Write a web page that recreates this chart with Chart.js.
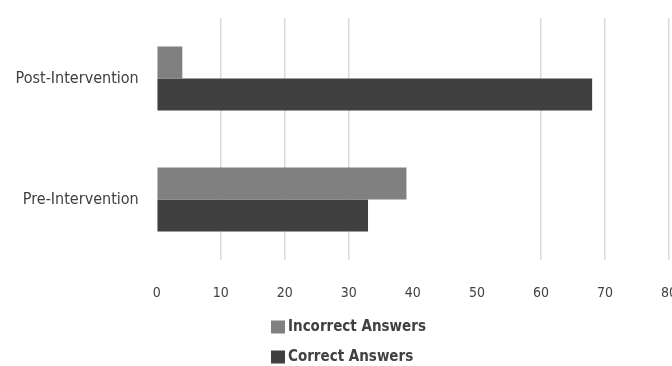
<!DOCTYPE html>
<html>
<head>
<meta charset="utf-8">
<script src="https://cdn.jsdelivr.net/npm/chart.js@4/dist/chart.umd.min.js"></script>
<style>
  html, body { margin: 0; padding: 0; background: #ffffff; }
  #wrap { width: 672px; height: 366px; position: relative; }
</style>
</head>
<body>
<div id="wrap"><canvas id="c"></canvas></div>
<script>
// Answer counts before and after the intervention
const categories = ['Post-Intervention', 'Pre-Intervention'];
const incorrectAnswers = [4, 39];
const correctAnswers = [68, 33];
const seriesNames = ['Incorrect Answers', 'Correct Answers'];
const xTicks = [0, 10, 20, 30, 40, 50, 60, 70, 80];

const FONT = "'DejaVu Sans Condensed', 'DejaVu Sans', sans-serif";

// Vertical legend drawn under the axis labels
const stackedLegend = {
  id: 'stackedLegend',
  afterDraw(chart) {
    const ctx = chart.ctx;
    const area = chart.chartArea;
    const x0 = 271;
    ctx.save();
    ctx.font = "bold 15px " + FONT;
    ctx.textBaseline = 'middle';
    ctx.textAlign = 'left';
    chart.data.datasets.forEach((ds, i) => {
      const cy = area.bottom + 67 + i * 30;
      ctx.fillStyle = ds.backgroundColor;
      ctx.fillRect(x0, cy - 6.5, 14, 13);
      ctx.fillStyle = '#404040';
      ctx.fillText(ds.label, x0 + 17, cy);
    });
    ctx.restore();
  }
};

new Chart(document.getElementById('c'), {
  type: 'bar',
  data: {
    labels: categories,
    datasets: [
      { label: seriesNames[0], data: incorrectAnswers, backgroundColor: '#808080' },
      { label: seriesNames[1], data: correctAnswers, backgroundColor: '#404040' }
    ]
  },
  options: {
    indexAxis: 'y',
    responsive: true,
    maintainAspectRatio: false,
    animation: false,
    datasets: { bar: { categoryPercentage: 0.53, barPercentage: 1.0, borderWidth: 0 } },
    layout: { padding: { top: 18, right: 3, left: 0, bottom: 66 } },
    plugins: {
      legend: { display: false },
      tooltip: { enabled: false }
    },
    scales: {
      x: {
        min: 0,
        max: 80,
        afterBuildTicks(scale) { scale.ticks = xTicks.map(v => ({ value: v })); },
        afterFit(scale) {
          scale.height = 40;
          scale.paddingLeft = 0;
          scale.paddingRight = 0;
        },
        border: { display: false },
        grid: {
          drawTicks: false,
          lineWidth: 1.5,
          color(ctx) {
            const v = ctx.tick ? ctx.tick.value : null;
            return (v === 0 || v === 40 || v === 50) ? 'rgba(0,0,0,0)' : '#d9d9d9';
          }
        },
        ticks: {
          padding: 25,
          color: '#404040',
          font: { family: FONT, size: 14 }
        }
      },
      y: {
        afterFit(scale) {
          scale.width = 156.7;
          scale.paddingTop = 0;
          scale.paddingBottom = 0;
        },
        border: { display: false },
        grid: { display: false, drawTicks: false },
        ticks: {
          padding: 18,
          color: '#404040',
          font: { family: FONT, size: 16 }
        }
      }
    }
  },
  plugins: [stackedLegend]
});
</script>
</body>
</html>
